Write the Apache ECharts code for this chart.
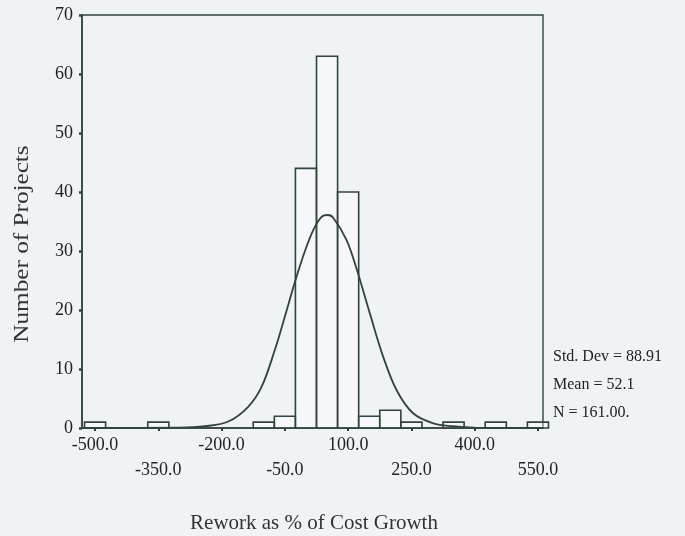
<!DOCTYPE html>
<html>
<head>
<meta charset="utf-8">
<script src="https://cdn.jsdelivr.net/npm/echarts@6/dist/echarts.min.js"></script>
<style>
  html, body { margin: 0; padding: 0; background: #f0f3f6; }
  #chart { width: 685px; height: 536px; }
</style>
</head>
<body>
<div id="chart"></div>
<script>
// Histogram of rework as % of cost growth (bin width 50)
const binCenters = [-500, -350, -100, -50, 0, 50, 100, 150, 200, 250, 350, 450, 550];
const binCounts  = [1, 1, 1, 2, 44, 63, 40, 2, 3, 1, 1, 1, 1];
const binWidth = 50;

// Fitted normal curve, traced point by point
const curveX = [-531, -300, -239, -184, -137, -105, -73.5, -50, -26, -2.4, 17, 37, 52, 65, 96, 120, 152, 183, 215, 254, 302, 348, 400, 562];
const curveY = [0, 0.05, 0.3, 1.1, 3.6, 7.0, 13.3, 18.9, 24.8, 30.0, 33.5, 35.8, 36.1, 35.6, 31.9, 27.0, 19.3, 12.1, 6.4, 2.5, 0.8, 0.3, 0.05, 0];

// Axis tick labels, split into the two staggered rows
const xTicksRow1 = [-500, -200, 100, 400];
const xTicksRow2 = [-350, -50, 250, 550];
const yTicks = [0, 10, 20, 30, 40, 50, 60, 70];

// Summary statistics
const statLines = ['Std. Dev = 88.91', 'Mean = 52.1', 'N = 161.00.'];

const ink = '#34423e';
const serif = '"Liberation Serif", "Times New Roman", serif';

const chart = echarts.init(document.getElementById('chart'), null, { renderer: 'canvas' });

const xBase = {
  type: 'value', min: -531, max: 562, position: 'bottom',
  splitLine: { show: false }
};

chart.setOption({
  backgroundColor: '#f0f3f6',
  animation: false,
  grid: { left: 82, top: 15, width: 461, height: 413, show: true, borderColor: ink, borderWidth: 1.4, backgroundColor: 'transparent' },
  xAxis: [
    Object.assign({}, xBase, {
      axisLine: { show: true, onZero: false, lineStyle: { color: ink, width: 1.6 } },
      axisTick: { show: true, customValues: xTicksRow1.concat(xTicksRow2), length: 3, lineStyle: { color: ink, width: 2 } },
      axisLabel: { customValues: xTicksRow1, margin: 8, color: '#222', fontFamily: serif, fontSize: 18,
        formatter: v => v.toFixed(1) }
    }),
    Object.assign({}, xBase, {
      axisLine: { show: false, onZero: false },
      axisTick: { show: false },
      axisLabel: { customValues: xTicksRow2, margin: 33, color: '#222', fontFamily: serif, fontSize: 18,
        formatter: v => v.toFixed(1) }
    })
  ],
  yAxis: {
    type: 'value', min: 0, max: 70, interval: 10,
    splitLine: { show: false },
    axisLine: { show: true, onZero: false, lineStyle: { color: ink, width: 1.6 } },
    axisTick: { show: true, length: 3, lineStyle: { color: ink, width: 2.5 } },
    axisLabel: { margin: 9, color: '#222', fontFamily: serif, fontSize: 18,
      customValues: yTicks }
  },
  series: [
    {
      type: 'custom',
      xAxisIndex: 0,
      data: binCenters.map((c, i) => [c, binCounts[i]]),
      renderItem: function (params, api) {
        const topLeft = api.coord([api.value(0) - binWidth / 2, api.value(1)]);
        const botRight = api.coord([api.value(0) + binWidth / 2, 0]);
        return {
          type: 'rect',
          shape: { x: topLeft[0], y: topLeft[1], width: botRight[0] - topLeft[0], height: botRight[1] - topLeft[1] },
          style: { fill: 'rgba(255,255,255,0.35)', stroke: ink, lineWidth: 1.6 }
        };
      }
    },
    {
      type: 'line',
      xAxisIndex: 0,
      data: curveX.map((x, i) => [x, curveY[i]]),
      smooth: 0.35,
      showSymbol: false,
      lineStyle: { color: ink, width: 1.8 },
      z: 3
    }
  ],
  graphic: [
    {
      type: 'text', left: 553, top: 349,
      style: { text: statLines[0], font: '16px ' + serif, fill: '#222' }
    },
    {
      type: 'text', left: 553, top: 377,
      style: { text: statLines[1], font: '16px ' + serif, fill: '#222' }
    },
    {
      type: 'text', left: 553, top: 405,
      style: { text: statLines[2], font: '16px ' + serif, fill: '#222' }
    },
    {
      type: 'text', x: 314, y: 523,
      style: { text: 'Rework as % of Cost Growth', font: '21px ' + serif, fill: '#333', align: 'center', verticalAlign: 'middle' }
    },
    {
      type: 'text', x: 22, y: 244, rotation: Math.PI / 2, scaleX: 1.2,
      style: { text: 'Number of Projects', font: '21px ' + serif, fill: '#333', align: 'center', verticalAlign: 'middle' }
    }
  ]
});
</script>
</body>
</html>
